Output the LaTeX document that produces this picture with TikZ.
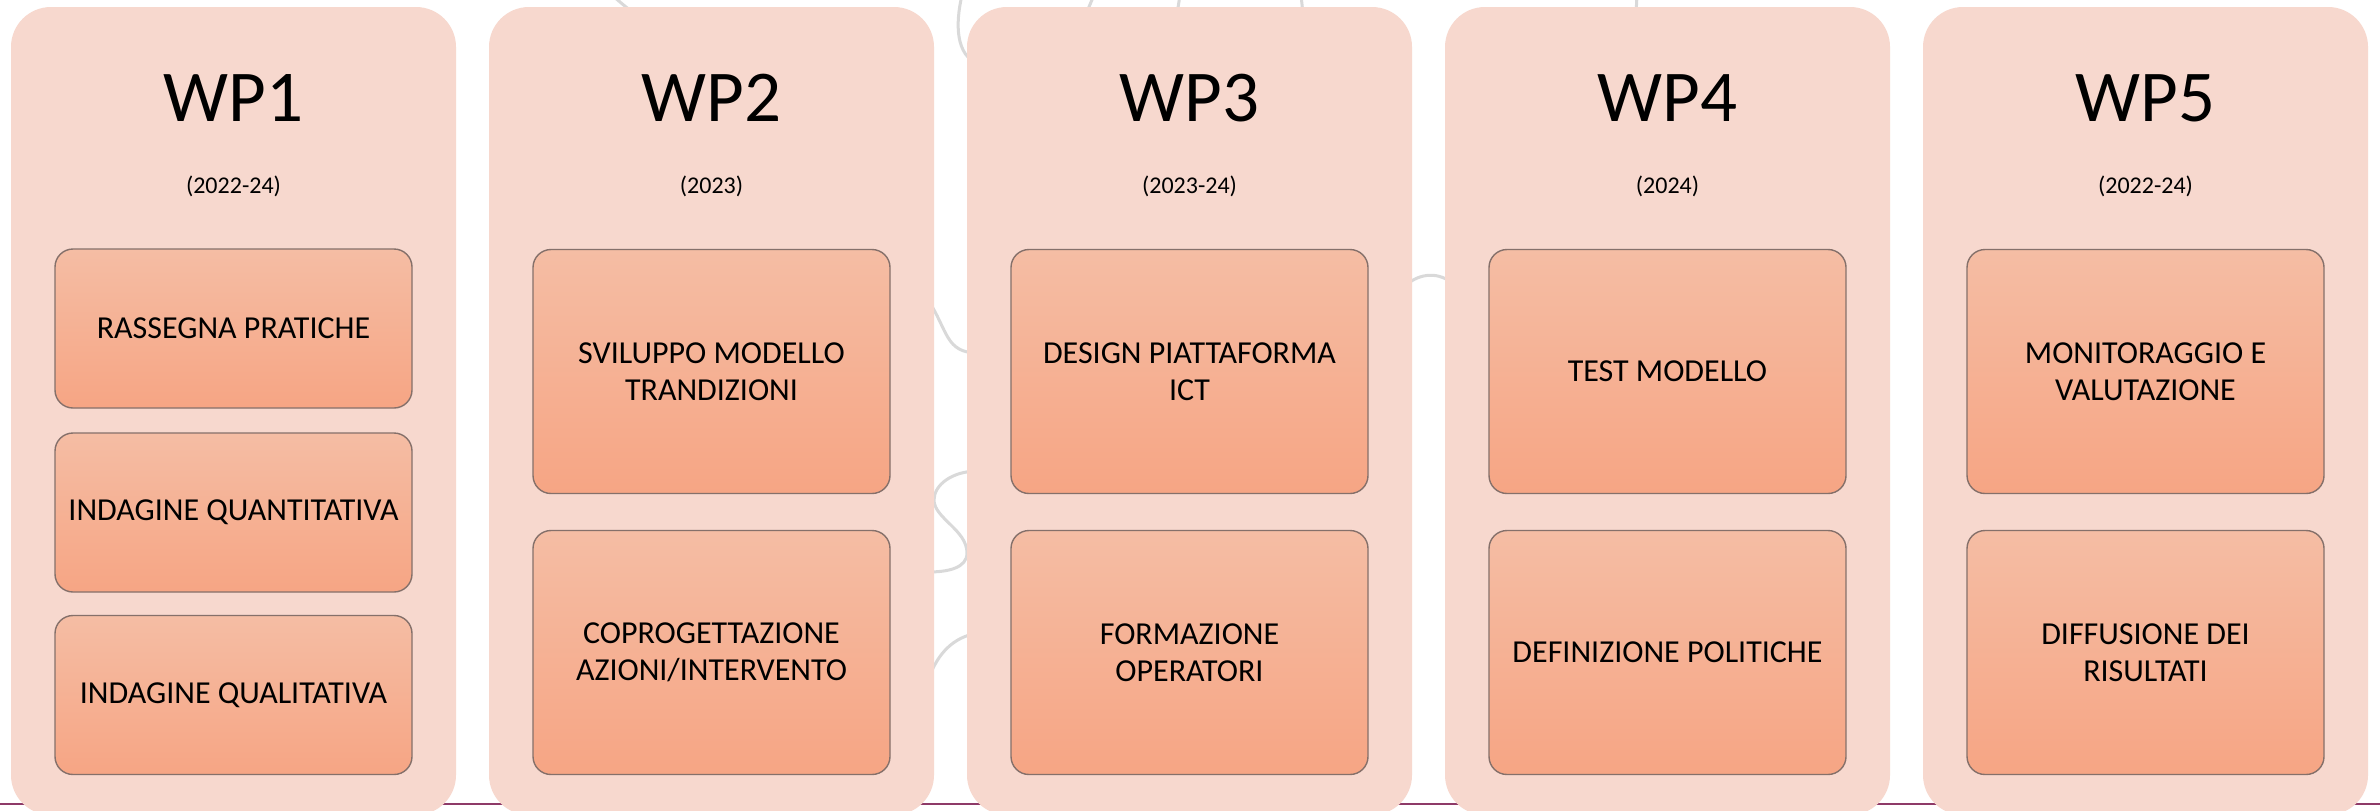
\documentclass[tikz,border=0pt]{standalone}
\usepackage{fontspec}
\setmainfont{Carlito}
\definecolor{colfill}{HTML}{F7D8CE}
\definecolor{tasktop}{HTML}{F5BDA4}
\definecolor{taskbot}{HTML}{F6A584}
\definecolor{taskline}{HTML}{85706A}
\definecolor{curvegray}{HTML}{D9D9D9}
\definecolor{baseline}{HTML}{8E3A68}
\begin{document}
\begin{tikzpicture}[x=0.5pt,y=-0.5pt,
  wpcol/.style={fill=colfill, rounded corners=20pt, minimum width=222.5pt, minimum height=404pt, inner sep=0pt, outer sep=0pt},
  wptitle/.style={anchor=base, inner sep=0pt, font=\fontsize{36.5}{44}\selectfont},
  wpyear/.style={anchor=base, inner sep=0pt, font=\fontsize{12}{14}\selectfont},
  task/.style={draw=taskline, line width=0.7pt, rounded corners=9pt, top color=tasktop, bottom color=taskbot, minimum width=178.5pt, align=center, inner sep=0pt, outer sep=0pt, font=\fontsize{16}{18.5}\selectfont},
  taskS/.style={task, minimum height=79.5pt},
  taskL/.style={task, minimum height=122pt},
  bgcurve/.style={draw=curvegray, line width=1.5pt},
  rule/.style={draw=baseline, line width=1.2pt}]
\useasboundingbox (0,0) rectangle (2380,810);
\clip (0,0) rectangle (2380,810);
\fill[white] (0,0) rectangle (2380,810);
% background decoration
\draw[bgcurve] (612,-5) .. controls (622,4) and (632,12) .. (645,22);
\draw[bgcurve] (962,-5) .. controls (955,25) and (956,55) .. (978,64);
\draw[bgcurve] (1094,-5) -- (1086,14);
\draw[bgcurve] (1180,-5) -- (1177,14);
\draw[bgcurve] (1301,-5) -- (1303,14);
\draw[bgcurve] (1637,-5) -- (1636,14);
\draw[bgcurve] (928,300) .. controls (948,330) and (945,353) .. (978,353);
\draw[bgcurve] (978,471) .. controls (952,471) and (934,485) .. (934,500)
  .. controls (934,518) and (967,530) .. (967,553)
  .. controls (967,568) and (948,572) .. (928,572);
\draw[bgcurve] (978,633) .. controls (952,637) and (938,655) .. (930,675);
\draw[bgcurve] (1405,286) .. controls (1420,272) and (1440,272) .. (1453,284);
\coordinate (ruleL) at (0,804);
\coordinate (ruleR) at (2380,804);
\draw[rule] (ruleL) -- (ruleR);
% columns
\node[wpcol] (c1) at (233.5,411) {};
\node[wpcol] (c2) at (711.5,411) {};
\node[wpcol] (c3) at (1189.5,411) {};
\node[wpcol] (c4) at (1667.5,411) {};
\node[wpcol] (c5) at (2145.5,411) {};
% titles
\node[wptitle] (t1) at (233.5,121) {WP1};
\node[wptitle] (t2) at (711.5,121) {WP2};
\node[wptitle] (t3) at (1189.5,121) {WP3};
\node[wptitle] (t4) at (1667.5,121) {WP4};
\node[wptitle] (t5) at (2145.5,121) {WP5};
\node[wpyear] (y1) at (233.5,193) {(2022-24)};
\node[wpyear] (y2) at (711.5,193) {(2023)};
\node[wpyear] (y3) at (1189.5,193) {(2023-24)};
\node[wpyear] (y4) at (1667.5,193) {(2024)};
\node[wpyear] (y5) at (2145.5,193) {(2022-24)};
% tasks
\node[taskS] (b11) at (233.5,328.5) {RASSEGNA PRATICHE};
\node[taskS] (b12) at (233.5,512.5) {INDAGINE QUANTITATIVA};
\node[taskS] (b13) at (233.5,695) {INDAGINE QUALITATIVA};
\node[taskL] (b21) at (711.5,371.5) {SVILUPPO MODELLO\\TRANDIZIONI};
\node[taskL] (b22) at (711.5,652.5) {COPROGETTAZIONE\\AZIONI/INTERVENTO};
\node[taskL] (b31) at (1189.5,371.5) {DESIGN PIATTAFORMA\\ICT};
\node[taskL] (b32) at (1189.5,652.5) {FORMAZIONE\\OPERATORI};
\node[taskL] (b41) at (1667.5,371.5) {TEST MODELLO};
\node[taskL] (b42) at (1667.5,652.5) {DEFINIZIONE POLITICHE};
\node[taskL] (b51) at (2145.5,371.5) {MONITORAGGIO E\\VALUTAZIONE};
\node[taskL] (b52) at (2145.5,652.5) {DIFFUSIONE DEI\\RISULTATI};
\end{tikzpicture}
\end{document}
